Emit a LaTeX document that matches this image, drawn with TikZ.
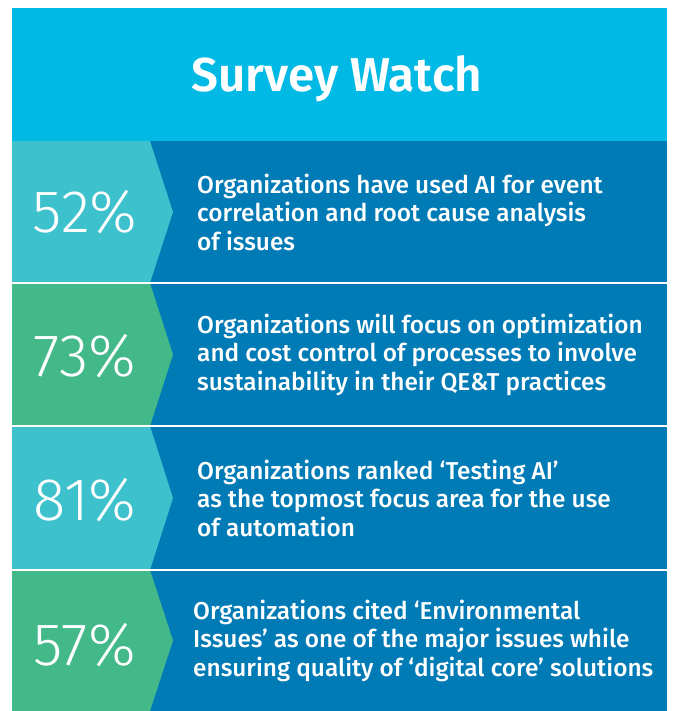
\documentclass[tikz,border=0pt]{standalone}
\usepackage{fontspec}
\setmainfont{Fira Sans Medium}
\newfontfamily\numfont{Fira Sans Light}
\newfontfamily\headfont{Fira Sans SemiBold}
\usetikzlibrary{calc}
\definecolor{headcyan}{RGB}{0,185,228}
\definecolor{rowblue}{RGB}{0,123,182}
\definecolor{cellteal}{RGB}{60,193,205}
\definecolor{cellgreen}{RGB}{67,185,138}

\begin{document}
\begin{tikzpicture}[x=1pt,y=-1pt,
  pct/.style={text=white,inner sep=0pt,font=\numfont\fontsize{60}{60}\selectfont},
  info/.style={text=white,anchor=west,align=left,inner sep=0pt,font=\fontsize{24.4}{28.5}\selectfont},
  sep/.style={white,line width=1.5pt}]
\useasboundingbox (0,0) rectangle (672,711);
% title band
\fill[headcyan] (12,8) rectangle (667,141);
\node[text=white,anchor=base,font=\headfont\fontsize{47.5}{47.5}\selectfont] (title) at (337,92) {Survey Watch};
% rows
\fill[rowblue] (12,141) rectangle (667,711);
\fill[cellteal] (12,141) -- (150,141) -- (173,212) -- (150,283) -- (12,283) -- cycle;
\fill[cellgreen] (12,283) -- (150,283) -- (173,354.5) -- (150,426) -- (12,426) -- cycle;
\fill[cellteal] (12,426) -- (150,426) -- (173,498) -- (150,570) -- (12,570) -- cycle;
\fill[cellgreen] (12,570) -- (150,570) -- (173,640.5) -- (150,711) -- (12,711) -- cycle;
\draw[sep] (12,283) -- (667,283);
\draw[sep] (12,426) -- (667,426);
\draw[sep] (12,570) -- (667,570);
% figures
\node[pct] (p52) at (85,212) {52\%};
\node[pct] (p73) at (85,356) {73\%};
\node[pct] (p81) at (85,500) {81\%};
\node[pct] (p57) at (85,645) {57\%};
% statements
\node[info] (t52) at (197,212) {Organizations have used AI for event\\correlation and root cause analysis\\of issues};
\node[info] (t73) at (197,354.5) {Organizations will focus on optimization\\and cost control of processes to involve\\sustainability in their QE\&T practices};
\node[info] (t81) at (197,498) {Organizations ranked ‘Testing AI’\\as the topmost focus area for the use\\of automation};
\node[info] (t57) at (193,640.5) {Organizations cited ‘Environmental\\Issues’ as one of the major issues while\\ensuring quality of ‘digital core’ solutions};
\end{tikzpicture}
\end{document}
